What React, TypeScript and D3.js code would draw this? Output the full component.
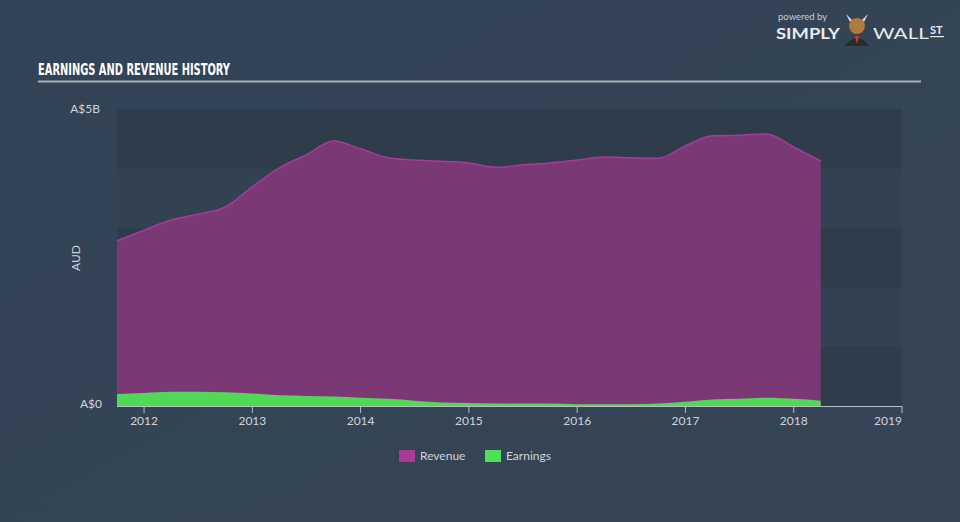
import React from "react";
import * as d3 from "d3";

const periods = [2011.75, 2012.0, 2012.25, 2012.5, 2012.75, 2013.0, 2013.25, 2013.5, 2013.75, 2014.0, 2014.25, 2014.5, 2014.75, 2015.0, 2015.25, 2015.5, 2015.75, 2016.0, 2016.25, 2016.5, 2016.75, 2017.0, 2017.25, 2017.5, 2017.75, 2018.0, 2018.25];
const revenue = [2.78, 2.96, 3.13, 3.23, 3.35, 3.69, 4.01, 4.23, 4.46, 4.33, 4.18, 4.14, 4.12, 4.09, 4.02, 4.06, 4.09, 4.14, 4.19, 4.18, 4.17, 4.38, 4.55, 4.56, 4.58, 4.36, 4.12];
const earnings = [0.2, 0.22, 0.24, 0.24, 0.23, 0.21, 0.18, 0.17, 0.16, 0.14, 0.12, 0.09, 0.06, 0.05, 0.04, 0.04, 0.04, 0.03, 0.03, 0.03, 0.04, 0.07, 0.11, 0.12, 0.14, 0.12, 0.09];
const yearTicks = [2012, 2013, 2014, 2015, 2016, 2017, 2018, 2019];
const yBands = [0, 1, 2, 3, 4];

const W = 960, H = 522;
const left = 117, right = 902, top = 109, bottom = 406;
const font = "Lato, 'Open Sans', sans-serif";

export default function App() {
  const x = d3.scaleLinear().domain([2011.75, 2019]).range([left, right]);
  const y = d3.scaleLinear().domain([0, 5]).range([bottom, top]);
  const idx = periods.map((_, i) => i);
  const revArea = d3.area<number>().x(i => x(periods[i])).y0(y(0)).y1(i => y(revenue[i])).curve(d3.curveMonotoneX);
  const revLine = d3.line<number>().x(i => x(periods[i])).y(i => y(revenue[i])).curve(d3.curveMonotoneX);
  const earnArea = d3.area<number>().x(i => x(periods[i])).y0(y(0)).y1(i => y(earnings[i])).curve(d3.curveMonotoneX);

  return (
    <svg width={W} height={H} style={{ position: "absolute", left: 0, top: 0, display: "block" }}>
      <defs>
        <linearGradient id="bg" x1="0" y1="0" x2="1" y2="1">
          <stop offset="0" stopColor="#324355" />
          <stop offset="1" stopColor="#354555" />
        </linearGradient>
      </defs>
      <rect x={0} y={0} width={W} height={H} fill="url(#bg)" />
      {yBands.map(b => (
        <rect key={b} x={left} y={y(b + 1)} width={right - left} height={y(b) - y(b + 1)}
          fill={b % 2 === 0 ? "#2e3c4c" : "#324253"} />
      ))}
      <text x={38} y={75} fill="#ffffff" fontFamily="'DejaVu Sans Condensed', 'DejaVu Sans', sans-serif" fontWeight="bold" fontSize={16} textLength={192} lengthAdjust="spacingAndGlyphs">EARNINGS AND REVENUE HISTORY</text>
      <rect x={38} y={80.5} width={883} height={2} fill="#a9b0b8" />
      <text x={778} y={20} fill="#c8ccd2" fontFamily={font} fontSize={9.5}>powered by</text>
      <text x={776} y={39} fill="#e8eaee" fontFamily={font} fontWeight="bold" fontSize={15} textLength={64} lengthAdjust="spacingAndGlyphs">SIMPLY</text>
      <g>
        <path d="M846,14 L850,22 L852,20 Z" fill="#ddd" />
        <path d="M868,14 L864,22 L862,20 Z" fill="#ddd" />
        <ellipse cx={857} cy={26} rx={8} ry={8} fill="#b07a3a" />
        <path d="M845,46 Q857,30 869,46 Z" fill="#2a2a2a" />
        <path d="M855,36 L859,36 L857,44 Z" fill="#d04020" />
      </g>
      <text x={873} y={39} fill="#e8eaee" fontFamily={font} fontSize={15} textLength={56} lengthAdjust="spacingAndGlyphs">WALL</text>
      <text x={930} y={34} fill="#e8eaee" fontFamily={font} fontWeight="bold" fontSize={11}>ST</text>
      <rect x={930} y={36} width={14} height={1.2} fill="#e8eaee" />
      <path d={revArea(idx) || ""} fill="#7a3975" />
      <path d={revLine(idx) || ""} fill="none" stroke="#a83a98" strokeWidth={1.5} />
      <path d={earnArea(idx) || ""} fill="#50d856" />
      <text x={100} y={113} textAnchor="end" fill="#d0d4da" fontFamily={font} fontSize={12}>A$5B</text>
      <text x={102} y={408} textAnchor="end" fill="#d0d4da" fontFamily={font} fontSize={12}>A$0</text>
      <text transform={`translate(80,258) rotate(-90)`} textAnchor="middle" fill="#d0d4da" fontFamily={font} fontSize={12}>AUD</text>
      <line x1={left} x2={right} y1={bottom + 0.5} y2={bottom + 0.5} stroke="#b8bec6" strokeWidth={1} />
      {yearTicks.map(t => (
        <g key={t}>
          <line x1={x(t)} x2={x(t)} y1={bottom} y2={bottom + 7} stroke="#b8bec6" strokeWidth={1} />
          <text x={t === 2019 ? x(t) - 14 : x(t)} y={425} textAnchor="middle" fill="#d0d4da" fontFamily={font} fontSize={12}>{t}</text>
        </g>
      ))}
      <rect x={399} y={450} width={16} height={12} fill="#a83a98" />
      <text x={420} y={460} fill="#d0d4da" fontFamily={font} fontSize={12}>Revenue</text>
      <rect x={485} y={450} width={16} height={12} fill="#50e05a" />
      <text x={506} y={460} fill="#d0d4da" fontFamily={font} fontSize={12}>Earnings</text>
    </svg>
  );
}
